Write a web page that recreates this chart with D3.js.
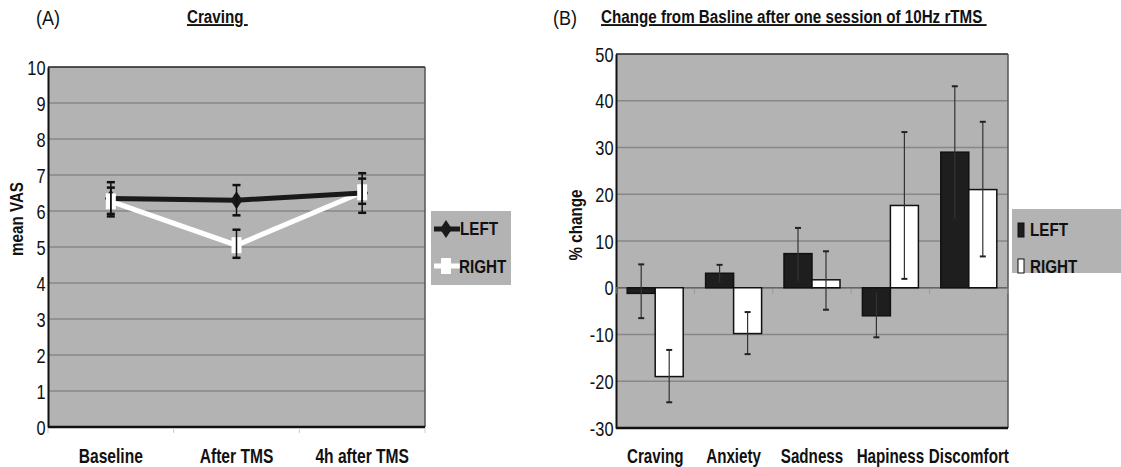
<!DOCTYPE html>
<html>
<head>
<meta charset="utf-8">
<script src="https://cdn.jsdelivr.net/npm/d3@7"></script>
<style>
body { margin: 0; background: #fff; }
svg { display: block; }
text { font-family: "Liberation Sans", Arial, sans-serif; fill: #111; }
</style>
</head>
<body>
<div class="chart"></div>
<script>
"use strict";
(function(){

// panel A data
var timepoints = ['Baseline', 'After TMS', '4h after TMS'];
var leftVas = [6.35, 6.3, 6.5];
var leftVasHi = [6.8, 6.72, 7.05];
var leftVasLo = [5.85, 5.88, 5.95];
var rightVas = [6.27, 5.05, 6.52];
var rightVasHi = [6.65, 5.48, 6.9];
var rightVasLo = [5.92, 4.7, 6.2];
var vasTicks = [0, 1, 2, 3, 4, 5, 6, 7, 8, 9, 10];

// panel B data
var measures = ['Craving', 'Anxiety', 'Sadness', 'Hapiness', 'Discomfort'];
var leftChange = [-1.2, 3.1, 7.3, -6, 29];
var leftChangeHi = [5, 4.9, 12.8, -1, 43.1];
var leftChangeLo = [-6.5, 1.1, 1.3, -10.6, 14.6];
var rightChange = [-19, -9.8, 1.7, 17.6, 21];
var rightChangeHi = [-13.3, -5.2, 7.8, 33.3, 35.5];
var rightChangeLo = [-24.5, -14.2, -4.7, 1.9, 6.7];
var changeTicks = [-30, -20, -10, 0, 10, 20, 30, 40, 50];

var width = 1121;
var height = 467;
var plotBg = '#b3b3b3';
var gridCol = '#878787';
var squeeze = 0.8;   // no narrow font installed, so squash the text

var svg = d3.select('.chart')
            .append('svg')
            .attr('width', width)
            .attr('height', height);

// text placed with a horizontal squeeze
function label(g, x, y, str, size, bold, anchor, rot, k){
  return g.append('text')
    .attr('transform', 'translate(' + x + ',' + y + ')' + (rot ? ' rotate(' + rot + ')' : '') + ' scale(' + (k || squeeze) + ',1)')
    .attr('font-size', size)
    .attr('font-weight', bold ? 'bold' : 'normal')
    .attr('text-anchor', anchor || 'start')
    .style('white-space', 'pre')
    .text(str);
}

// ---------- panel A ----------
var gA = svg.append('g');
var xA = d3.scaleBand().domain(timepoints).range([48, 425]);
var yA = d3.scaleLinear().domain([0, 10]).range([427, 67]);

gA.append('rect')
  .attr('x', 48).attr('y', 67)
  .attr('width', 377).attr('height', 360)
  .attr('fill', plotBg);

gA.selectAll('.grid')
  .data(vasTicks.slice(1, -1))
  .enter().append('line')
  .attr('x1', 48).attr('x2', 425)
  .attr('y1', function(d){ return yA(d) })
  .attr('y2', function(d){ return yA(d) })
  .attr('stroke', gridCol).attr('stroke-width', 1.5);

// frame
gA.append('line').attr('x1', 48).attr('x2', 425).attr('y1', 67).attr('y2', 67)
  .attr('stroke', '#222').attr('stroke-width', 1.5);
gA.append('line').attr('x1', 425).attr('x2', 425).attr('y1', 67).attr('y2', 427)
  .attr('stroke', '#555').attr('stroke-width', 1.5);

var axA = gA.append('g')
  .attr('transform', 'translate(48,0)')
  .call(d3.axisLeft(yA).tickValues(vasTicks).tickSize(0).tickFormat(function(d){ return String(d) }));
axA.select('.domain').attr('stroke', '#111').attr('stroke-width', 2);
axA.selectAll('.tick text')
  .attr('font-size', 20).attr('x', -3).attr('dy', '0.35em')
  .attr('transform', 'scale(0.82,1)');

// x axis A
gA.append('line').attr('x1', 48).attr('x2', 425).attr('y1', 427).attr('y2', 427)
  .attr('stroke', '#111').attr('stroke-width', 2.5);
gA.selectAll('.xtick')
  .data(timepoints.concat(['end']))
  .enter().append('line')
  .attr('x1', function(d, i){ return 48 + i * xA.bandwidth() })
  .attr('x2', function(d, i){ return 48 + i * xA.bandwidth() })
  .attr('y1', 428).attr('y2', 433)
  .attr('stroke', '#ccc');
timepoints.forEach(function(d){
  label(gA, xA(d) + xA.bandwidth() / 2, 463, d, 20, true, 'middle', 0, 0.78);
});

var cx = function(i){ return xA(timepoints[i]) + xA.bandwidth() / 2 };
var lineGen = function(vals){
  return d3.line()
    .x(function(d, i){ return cx(i) })
    .y(function(d){ return yA(d) })(vals);
};

gA.append('path').attr('d', lineGen(rightVas))
  .attr('fill', 'none').attr('stroke', '#fff').attr('stroke-width', 5);
gA.append('path').attr('d', lineGen(leftVas))
  .attr('fill', 'none').attr('stroke', '#1a1a1a').attr('stroke-width', 5);

function errA(hi, lo){
  hi.forEach(function(h, i){
    var x = cx(i);
    gA.append('line').attr('x1', x).attr('x2', x).attr('y1', yA(h)).attr('y2', yA(lo[i]))
      .attr('stroke', '#111').attr('stroke-width', 1.5);
    [h, lo[i]].forEach(function(v){
      gA.append('line').attr('x1', x - 4).attr('x2', x + 4).attr('y1', yA(v)).attr('y2', yA(v))
        .attr('stroke', '#111').attr('stroke-width', 2.5);
    });
  });
}

// diamonds LEFT
leftVas.forEach(function(v, i){
  var x = cx(i), y = yA(v);
  gA.append('path')
    .attr('d', 'M' + x + ',' + (y - 9) + 'L' + (x + 6) + ',' + y + 'L' + x + ',' + (y + 9) + 'L' + (x - 6) + ',' + y + 'Z')
    .attr('fill', '#1a1a1a');
});
// squares RIGHT
rightVas.forEach(function(v, i){
  gA.append('rect')
    .attr('x', cx(i) - 5).attr('y', yA(v) - 8)
    .attr('width', 10).attr('height', 16)
    .attr('fill', '#fff');
});
errA(leftVasHi, leftVasLo);
errA(rightVasHi, rightVasLo);

// legend A
gA.append('rect').attr('x', 431).attr('y', 211).attr('width', 80).attr('height', 74).attr('fill', plotBg);
gA.append('line').attr('x1', 434).attr('x2', 460).attr('y1', 229).attr('y2', 229)
  .attr('stroke', '#1a1a1a').attr('stroke-width', 5);
gA.append('path').attr('d', 'M446,220L452,229L446,238L440,229Z').attr('fill', '#1a1a1a');
gA.append('line').attr('x1', 434).attr('x2', 460).attr('y1', 266).attr('y2', 266)
  .attr('stroke', '#fff').attr('stroke-width', 5);
gA.append('rect').attr('x', 441).attr('y', 258).attr('width', 10).attr('height', 16).attr('fill', '#fff');
label(gA, 460, 235, 'LEFT', 19, true);
label(gA, 459, 273, 'RIGHT', 19, true);

// titles A
label(gA, 36, 25, '(A)', 20, false, 'start', 0, 0.9);
label(gA, 187, 23, 'Craving ', 19, true).attr('text-decoration', 'underline');
label(gA, 23, 219, 'mean VAS', 19, true, 'middle', -90);

// ---------- panel B ----------
var gB = svg.append('g');
var xB = d3.scaleBand().domain(measures).range([616, 1008]);
var yB = d3.scaleLinear().domain([-30, 50]).range([428, 54]);
var sub = d3.scaleBand().domain(['L', 'R']).range([0, xB.bandwidth()]).paddingInner(0).paddingOuter(0.4);

gB.append('rect')
  .attr('x', 616).attr('y', 54)
  .attr('width', 392).attr('height', 374)
  .attr('fill', plotBg);

gB.selectAll('.grid')
  .data(changeTicks.slice(1, -1))
  .enter().append('line')
  .attr('x1', 616).attr('x2', 1008)
  .attr('y1', function(d){ return yB(d) })
  .attr('y2', function(d){ return yB(d) })
  .attr('stroke', gridCol).attr('stroke-width', 1.5);

gB.append('line').attr('x1', 616).attr('x2', 1008).attr('y1', 54).attr('y2', 54)
  .attr('stroke', '#222').attr('stroke-width', 1.5);
gB.append('line').attr('x1', 1008).attr('x2', 1008).attr('y1', 54).attr('y2', 428)
  .attr('stroke', '#555').attr('stroke-width', 1.5);
gB.append('line').attr('x1', 616).attr('x2', 1008).attr('y1', 428).attr('y2', 428)
  .attr('stroke', '#111').attr('stroke-width', 2.5);

var axB = gB.append('g')
  .attr('transform', 'translate(616,0)')
  .call(d3.axisLeft(yB).tickValues(changeTicks).tickSize(0).tickFormat(function(d){ return String(d) }));
axB.select('.domain').attr('stroke', '#111').attr('stroke-width', 2);
axB.selectAll('.tick text')
  .attr('font-size', 20).attr('x', -3).attr('dy', '0.35em')
  .attr('transform', 'scale(0.82,1)');

// zero line + ticks
gB.selectAll('.xtick')
  .data(measures.concat(['end']))
  .enter().append('line')
  .attr('x1', function(d, i){ return 616 + i * xB.bandwidth() })
  .attr('x2', function(d, i){ return 616 + i * xB.bandwidth() })
  .attr('y1', yB(0)).attr('y2', yB(0) + 6)
  .attr('stroke', '#999');
gB.append('line').attr('x1', 616).attr('x2', 1008).attr('y1', yB(0)).attr('y2', yB(0))
  .attr('stroke', '#666').attr('stroke-width', 1.5);

measures.forEach(function(d){
  label(gB, xB(d) + xB.bandwidth() / 2, 463, d, 20, true, 'middle', 0, 0.76);
});

function bars(key, vals, fill){
  gB.selectAll('.bar' + key)
    .data(vals)
    .enter().append('rect')
    .attr('x', function(d, i){ return xB(measures[i]) + sub(key) })
    .attr('y', function(d){ return yB(Math.max(0, d)) })
    .attr('width', sub.bandwidth())
    .attr('height', function(d){ return Math.abs(yB(d) - yB(0)) })
    .attr('fill', fill)
    .attr('stroke', '#111').attr('stroke-width', 1.5);
}
bars('L', leftChange, '#1e1e1e');
bars('R', rightChange, '#fff');

function errB(key, hi, lo){
  hi.forEach(function(h, i){
    var x = xB(measures[i]) + sub(key) + sub.bandwidth() / 2;
    gB.append('line').attr('x1', x).attr('x2', x).attr('y1', yB(h)).attr('y2', yB(lo[i]))
      .attr('stroke', '#333').attr('stroke-width', 1.2);
    [h, lo[i]].forEach(function(v){
      gB.append('line').attr('x1', x - 3).attr('x2', x + 3).attr('y1', yB(v)).attr('y2', yB(v))
        .attr('stroke', '#222').attr('stroke-width', 2);
    });
  });
}
errB('L', leftChangeHi, leftChangeLo);
errB('R', rightChangeHi, rightChangeLo);

// legend B
gB.append('rect').attr('x', 1012).attr('y', 209).attr('width', 115).attr('height', 64).attr('fill', plotBg);
gB.append('rect').attr('x', 1018).attr('y', 223).attr('width', 6).attr('height', 14)
  .attr('fill', '#1e1e1e').attr('stroke', '#111');
gB.append('rect').attr('x', 1018).attr('y', 259).attr('width', 6).attr('height', 14)
  .attr('fill', '#fff').attr('stroke', '#111');
label(gB, 1030, 236, 'LEFT', 19, true);
label(gB, 1030, 273, 'RIGHT', 19, true);

label(gB, 553, 25, '(B)', 20, false, 'start', 0, 0.9);
label(gB, 601, 23, 'Change from Basline after one session of 10Hz rTMS ', 19, true)
  .attr('text-decoration', 'underline');
label(gB, 582, 225, '% change', 19, true, 'middle', -90);

})();
</script>
</body>
</html>
